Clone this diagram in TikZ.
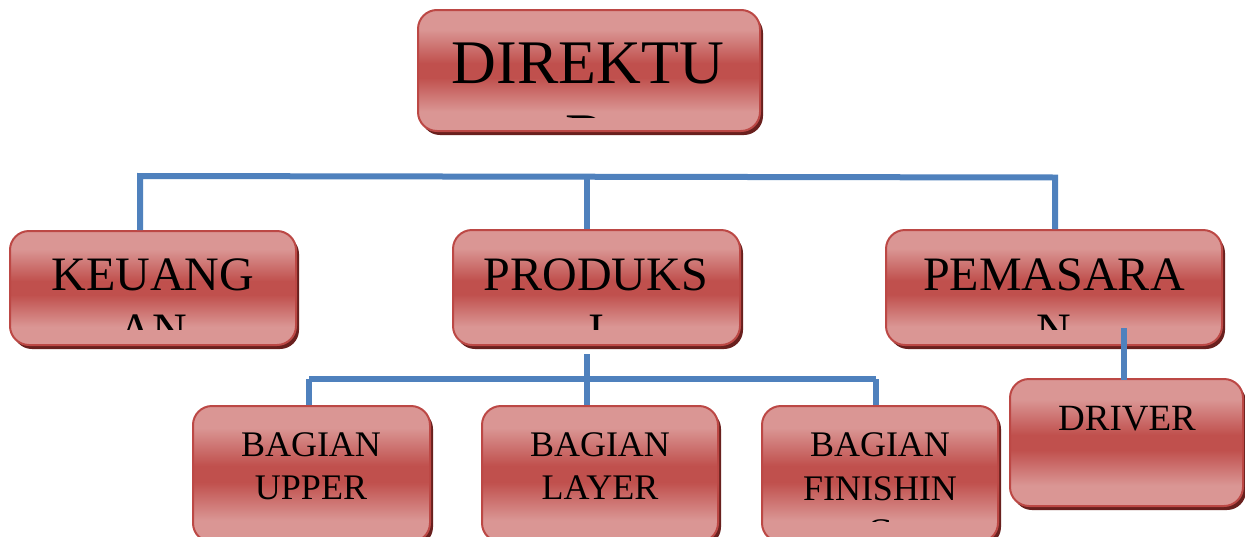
\documentclass[tikz,border=0pt]{standalone}
\usepackage{fontspec}
\setmainfont{Liberation Serif}
\usetikzlibrary{shadows}
\definecolor{boxlight}{RGB}{218,150,148}
\definecolor{boxdark}{RGB}{192,80,77}
\definecolor{boxborder}{RGB}{188,72,69}
\definecolor{shadowred}{RGB}{105,32,30}
\definecolor{connblue}{RGB}{79,129,189}
\pgfdeclareverticalshading{orgshade}{100bp}{color(0bp)=(boxlight); color(33bp)=(boxlight); color(47bp)=(boxdark); color(53bp)=(boxdark); color(67bp)=(boxlight); color(100bp)=(boxlight)}
\tikzset{
  orgbox/.style={draw=boxborder, line width=2pt, rounded corners=19pt,
    rectangle, inner sep=0pt, shade, shading=orgshade,
    drop shadow={shadow xshift=3pt, shadow yshift=-4pt, fill=shadowred, opacity=1}},
  conn/.style={draw=connblue, line width=6pt},
  big/.style={anchor=base, inner sep=0pt, font=\fontsize{62}{70}\selectfont},
  mid/.style={anchor=base, inner sep=0pt, font=\fontsize{48}{55}\selectfont},
  small/.style={anchor=base, inner sep=0pt, font=\fontsize{36}{42}\selectfont},
}
\begin{document}
\begin{tikzpicture}[x=1pt,y=-1pt]
\clip (0,0) rectangle (1245,536);
\fill[white] (0,0) rectangle (1245,536);

% bus coordinates
\coordinate (busL) at (140,176);
\coordinate (busM) at (587,176.5);
\coordinate (busR) at (1055,177.5);
\coordinate (bus2L) at (309,379);
\coordinate (bus2M) at (587,379);
\coordinate (bus2R) at (876,379);
\coordinate (prodB) at (587,354);
\coordinate (drvT) at (1124,328);
\coordinate (drvB) at (1124,380);

% boxes
\node[orgbox, minimum width=342pt, minimum height=121pt] (dir) at (589,70.5) {};
\node[orgbox, minimum width=286pt, minimum height=114pt] (keu) at (153,288) {};
\node[orgbox, minimum width=287pt, minimum height=115pt] (prod) at (596.5,287.5) {};
\node[orgbox, minimum width=336pt, minimum height=115pt] (pem) at (1054,287.5) {};
\node[orgbox, minimum width=237pt, minimum height=136pt] (upper) at (311.5,474) {};
\node[orgbox, minimum width=236pt, minimum height=136pt] (layer) at (600,474) {};
\node[orgbox, minimum width=236pt, minimum height=136pt] (fin) at (880,474) {};
\node[orgbox, minimum width=233pt, minimum height=127pt] (drv) at (1126.5,442.5) {};

% connectors
\draw[conn] (keu.north -| busL) -- (busL) -- (busR) -- (pem.north -| busR);
\draw[conn] (busM) -- (prod.north -| busM);
\draw[conn] (prodB) -- (layer.north -| prodB);
\draw[conn] (bus2L) -- (bus2R);
\draw[conn] (bus2L) -- (upper.north -| bus2L);
\draw[conn] (bus2R) -- (fin.north -| bus2R);
\draw[conn] (drvT) -- (drvB);

% texts (overflowing lines clipped as in the reference)
\begin{scope}
  \clip (418,10) rectangle (760,117);
  \node[big] (dirA) at (588,83) {DIREKTU};
  \node[big] (dirB) at (586,156) {R};
\end{scope}
\begin{scope}
  \clip (10,231) rectangle (296,329);
  \node[mid] (keuA) at (153,290) {KEUANG};
  \node[mid] (keuB) at (153,346) {AN};
\end{scope}
\begin{scope}
  \clip (453,230) rectangle (740,329);
  \node[mid] (prodA) at (596,290) {PRODUKS};
  \node[mid] (prodI) at (596,346) {I};
\end{scope}
\begin{scope}
  \clip (886,230) rectangle (1222,329);
  \node[mid] (pemA) at (1054,290) {PEMASARA};
  \node[mid] (pemB) at (1054,346) {N};
\end{scope}
\node[small] (upA) at (311,456) {BAGIAN};
\node[small] (upB) at (311,499) {UPPER};
\node[small] (laA) at (600,456) {BAGIAN};
\node[small] (laB) at (600,499) {LAYER};
\begin{scope}
  \clip (762,406) rectangle (998,521);
  \node[small] (fiA) at (880,456) {BAGIAN};
  \node[small] (fiB) at (880,500) {FINISHIN};
  \node[small] (fiC) at (880,543) {G};
\end{scope}
\node[small, font=\fontsize{37}{42}\selectfont] (drA) at (1127,430) {DRIVER};
\end{tikzpicture}
\end{document}
